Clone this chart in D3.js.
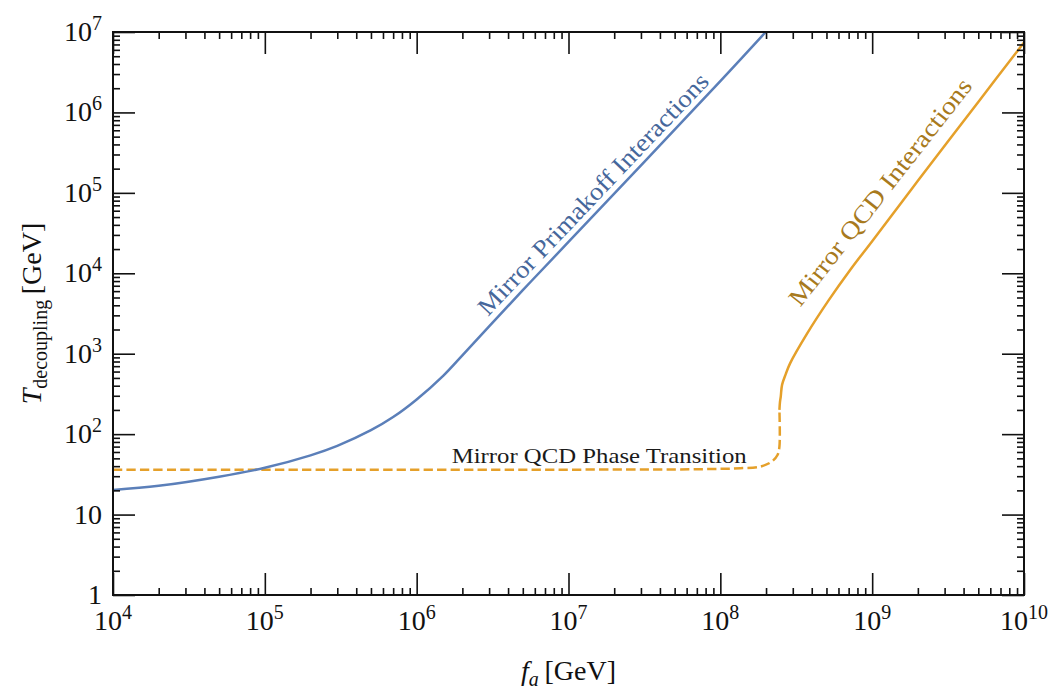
<!DOCTYPE html>
<html><head><meta charset="utf-8">
<script src="https://cdn.jsdelivr.net/npm/d3@7"></script>
<style>
body{margin:0;background:#fff}
svg{display:block}
text{font-family:"Liberation Serif","Times New Roman",serif;fill:#111}
</style>
</head><body>
<svg id="chart" width="1053" height="689"></svg>
<script>
// ---------------- data ----------------
const xDomain = [1e4, 1e10];
const yDomain = [1, 1e7];
const xMajorTicks = [1e4, 1e5, 1e6, 1e7, 1e8, 1e9, 1e10];
const xTickLabels = ["10^4", "10^5", "10^6", "10^7", "10^8", "10^9", "10^10"];
const yMajorTicks = [1, 10, 1e2, 1e3, 1e4, 1e5, 1e6, 1e7];
const yTickLabels = ["1", "10", "10^2", "10^3", "10^4", "10^5", "10^6", "10^7"];

// Mirror Primakoff interactions (blue)
const faPrimakoff = [1e4, 2e4, 5e4, 1e5, 2e5, 3e5, 5e5, 7e5, 1e6, 1.5e6, 2e6, 3e6, 5e6, 1e7, 1e8, 1.99e8];
const TPrimakoff  = [20.2, 22.8, 29.6, 38.2, 54.5, 71.5, 112, 163, 270, 535, 955, 2190, 6170, 24500, 2.45e6, 1e7];

// Mirror QCD interactions (orange, solid)
const faQCD = [2.45e8, 2.47e8, 2.5e8, 2.55e8, 2.7e8, 2.88e8, 3.7e8, 5.15e8, 7.16e8, 1e9, 2e9, 5e9, 1e10];
const TQCD  = [200, 250, 293, 410, 562, 759, 1740, 4570, 11000, 25100, 141000, 1.35e6, 7.4e6];

// Mirror QCD phase transition (orange, dashed)
const faPT = [1e4, 1e6, 1e7, 5e7, 1e8, 1.35e8, 1.83e8, 2.18e8, 2.38e8, 2.45e8, 2.45e8];
const TPT  = [36.2, 36.2, 36.2, 36.4, 37, 37.7, 39.4, 45.5, 55, 70, 200];

// annotation labels
const labelTexts  = ["Mirror Primakoff Interactions", "Mirror QCD Interactions", "Mirror QCD Phase Transition"];
const labelFa     = [2.95e6, 3.36e8, 1.7e6];
const labelT      = [2870, 3715, 43.5];

// ---------------- layout / style ----------------
const svg = d3.select("#chart");
const L = 113, R = 1024, T = 32, B = 595;
const x = d3.scaleLog().domain(xDomain).range([L, R]);
const y = d3.scaleLog().domain(yDomain).range([B, T]);

const blue = "#5b7fb9", orange = "#e5a02a";

function minorTicks(domain) {
  const out = [];
  for (let d = domain[0]; d < domain[1]; d *= 10)
    for (let k = 2; k <= 9; k++) out.push(d * k);
  return out;
}
const xMinor = minorTicks(xDomain), yMinor = minorTicks(yDomain);

svg.append("clipPath").attr("id", "clip")
  .append("rect").attr("x", L).attr("y", T).attr("width", R - L).attr("height", B - T);

// curves
const line = d3.line().x(d => x(d[0])).y(d => y(d[1])).curve(d3.curveCatmullRom.alpha(0.5));
const g = svg.append("g").attr("clip-path", "url(#clip)");
g.append("path").datum(d3.zip(faPT, TPT)).attr("d", line)
  .attr("fill", "none").attr("stroke", orange).attr("stroke-width", 2.5)
  .attr("stroke-dasharray", "9.3,4.2");
g.append("path").datum(d3.zip(faQCD, TQCD)).attr("d", line)
  .attr("fill", "none").attr("stroke", orange).attr("stroke-width", 2.5);
g.append("path").datum(d3.zip(faPrimakoff, TPrimakoff)).attr("d", line)
  .attr("fill", "none").attr("stroke", blue).attr("stroke-width", 2.5);

// ticks on all four sides (inward)
function addAxis(axisFn, scale, vals, len, tr) {
  const a = axisFn(scale).tickValues(vals).tickSizeInner(-len).tickSizeOuter(0).tickFormat("");
  const gg = svg.append("g").attr("transform", tr).call(a);
  gg.select(".domain").remove();
  gg.selectAll(".tick line").attr("stroke", "#111").attr("stroke-width", 1.6);
}
addAxis(d3.axisBottom, x, xMajorTicks, 22, `translate(0,${B})`);
addAxis(d3.axisBottom, x, xMinor, 7, `translate(0,${B})`);
addAxis(d3.axisTop, x, xMajorTicks, 22, `translate(0,${T})`);
addAxis(d3.axisTop, x, xMinor, 7, `translate(0,${T})`);
addAxis(d3.axisLeft, y, yMajorTicks, 22, `translate(${L},0)`);
addAxis(d3.axisLeft, y, yMinor, 7, `translate(${L},0)`);
addAxis(d3.axisRight, y, yMajorTicks, 22, `translate(${R},0)`);
addAxis(d3.axisRight, y, yMinor, 7, `translate(${R},0)`);

// frame
svg.append("rect").attr("x", L).attr("y", T).attr("width", R - L).attr("height", B - T)
  .attr("fill", "none").attr("stroke", "#111").attr("stroke-width", 2);

// tick labels with superscripts
function powLabel(sel, s) {
  const parts = s.split("^");
  sel.append("tspan").text(parts[0]);
  if (parts.length > 1)
    sel.append("tspan").attr("font-size", 20).attr("dy", -11).text(parts[1]);
}
xMajorTicks.forEach((v, i) => {
  const t = svg.append("text").attr("x", x(v)).attr("y", B + 35)
    .attr("text-anchor", "middle").attr("font-size", 28);
  powLabel(t, xTickLabels[i]);
});
yMajorTicks.forEach((v, i) => {
  const t = svg.append("text").attr("x", 102).attr("y", y(v) + 9)
    .attr("text-anchor", "end").attr("font-size", 28);
  powLabel(t, yTickLabels[i]);
});

// axis titles
const xt = svg.append("text").attr("x", (L + R) / 2).attr("y", 680)
  .attr("text-anchor", "middle").attr("font-size", 28);
xt.append("tspan").attr("font-style", "italic").text("f");
xt.append("tspan").attr("font-style", "italic").attr("font-size", 20).attr("dy", 6).text("a");
xt.append("tspan").attr("dy", -6).text("\u2009[GeV]");

const yt = svg.append("text").attr("transform", `translate(41,${(T + B) / 2}) rotate(-90)`)
  .attr("text-anchor", "middle").attr("font-size", 28);
yt.append("tspan").attr("font-style", "italic").text("T");
yt.append("tspan").attr("font-size", 20).attr("dy", 6).text("decoupling");
yt.append("tspan").attr("dy", -6).text("\u2009[GeV]");

// annotations
const labelStyle = [
  {rot: -46.5, size: 25, len: 323, color: "#46679b"},
  {rot: -52, size: 25, len: 281, color: "#a87a1d"},
  {rot: 0, size: 22, len: 295, color: "#1a1a1a"}
];
labelTexts.forEach((s, i) => {
  const st = labelStyle[i];
  svg.append("text")
    .attr("transform", `translate(${x(labelFa[i])},${y(labelT[i])}) rotate(${st.rot})`)
    .attr("font-size", st.size).attr("textLength", st.len).attr("lengthAdjust", "spacingAndGlyphs")
    .style("fill", st.color).text(s);
});
</script>
</body></html>
